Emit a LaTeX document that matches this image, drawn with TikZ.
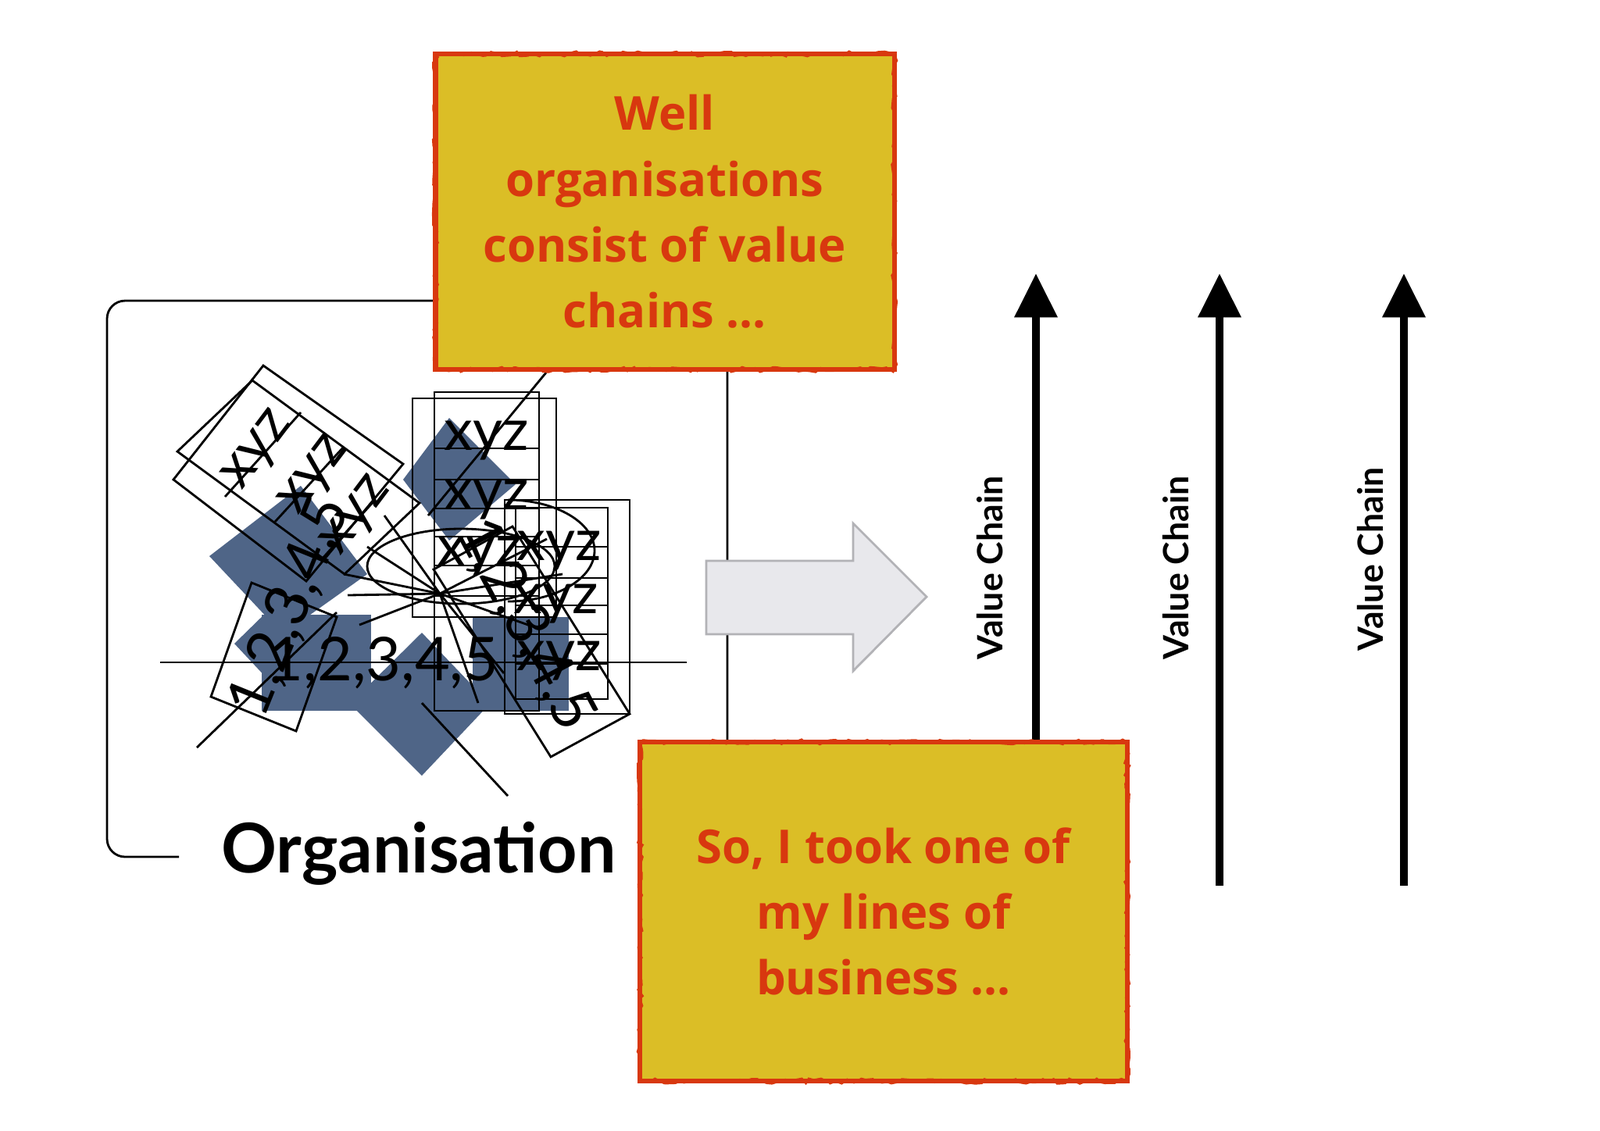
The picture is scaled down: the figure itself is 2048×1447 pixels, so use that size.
\documentclass[tikz,border=0pt]{standalone}
\usepackage{fontspec}
\setmainfont{Lato}
\newfontfamily\notefont{Open Sans}
\usetikzlibrary{arrows.meta,decorations.pathmorphing}

\definecolor{notefill}{HTML}{DBBE26}
\definecolor{notered}{HTML}{D8380F}
\definecolor{slateblue}{HTML}{4F6587}
\definecolor{arrowgray}{HTML}{E8E8EC}
\definecolor{arrowedge}{HTML}{B2B2B6}

\tikzset{
  note/.style={draw=notered, line width=1.8pt, fill=notefill, text=notered,
    align=center, inner sep=0pt, font=\notefont\bfseries\fontsize{17}{24}\selectfont,
    postaction={draw=notered, line width=0.8pt, decorate,
      decoration={random steps, segment length=2pt, amplitude=0.9pt}}},
  bracket/.style={draw=black, line width=0.8pt, rounded corners=0.23cm},
  cell/.style={draw=black, line width=0.8pt},
  blob/.style={fill=slateblue},
  xyz/.style={inner sep=0pt, font=\fontsize{21}{21}\selectfont},
  digits/.style={inner sep=0pt, font=\fontsize{22}{22}\selectfont},
  bigarrow/.style={draw=arrowedge, line width=0.8pt, fill=arrowgray},
  chain/.style={line width=3pt, -{Triangle[length=16pt, width=15pt]}},
  chainlabel/.style={rotate=90, font=\bfseries\fontsize{12.7}{14}\selectfont},
}

\begin{document}
\begin{tikzpicture}[x=0.01cm, y=-0.01cm]
\useasboundingbox (0,0) rectangle (2048,1447);
\fill[white] (0,0) rectangle (2048,1447);

% organisation group
\draw[bracket] (229,1097) -- (137,1097) -- (137,385) -- (931,385) -- (931,1060);

% the tangle of things inside the organisation
\fill[blob] (268,712) -- (385,622) -- (470,735) -- (362,812) -- cycle;
\fill[blob] (300,824) -- (345,780) -- (345,872) -- cycle;
\fill[blob] (575,535) -- (660,620) -- (575,692) -- (516,614) -- cycle;
\fill[blob] (335,787) rectangle (475,910);
\fill[blob] (605,790) rectangle (728,910);
\fill[blob] (540,810) -- (627,901) -- (540,993) -- (448,901) -- cycle;

\draw[cell] (337,468) -- (516,594) -- (392,744) -- (222,614) -- cycle;
\draw[cell] (323,487) -- (537,644) -- (441,735) -- (227,578) -- cycle;
\draw[cell] (288,636) -- (385,528);
\draw[cell] (352,668) -- (440,572);
\draw[cell] (410,718) -- (480,640);
\node[xyz, rotate=53] (xyz a1) at (332,578) {xyz};
\node[xyz, rotate=53] (xyz a2) at (404,610) {xyz};
\node[xyz, rotate=53] (xyz a3) at (458,662) {xyz};

\draw[cell] (270,892) -- (379,936) -- (431,790) -- (322,746) -- cycle;
\node[digits, rotate=68] (digits up) at (372,777) {1,2,3,4,5};

\draw[cell] (528,510) rectangle (712,790);
\draw[cell] (556,502) rectangle (690,910);
\foreach \y in {574,614,651,687,724,763} \draw[cell] (556,\y) -- (690,\y);
\node[xyz] (xyz d1) at (623,564) {xyz};
\node[xyz] (xyz d2) at (623,640) {xyz};
\node[xyz] (xyz d3) at (614,712) {xyz};

\draw[cell] (646,640) rectangle (806,914);
\draw[cell] (660,650) rectangle (778,895);
\foreach \y in {700,740,775,812,850} \draw[cell] (660,\y) -- (778,\y);
\draw[cell] (650,640) arc[start angle=-90, end angle=90, x radius=111, y radius=65];
\draw[cell] (590,725) ellipse[x radius=120, y radius=48];
\node[xyz] (xyz e1) at (716,705) {xyz};
\node[xyz] (xyz e2) at (712,773) {xyz};
\node[xyz] (xyz e3) at (716,846) {xyz};

\draw[cell] (705,969) -- (806,914) -- (656,674) -- (555,729) -- cycle;
\node[digits, rotate=-62] (digits down) at (672,800) {1,2,3,4,5};

\coordinate (hub) at (563,760);
\foreach \p in {(440,735),(445,762),(460,800),(470,700),(492,660),(700,690),(720,735),(690,805),(612,900),(645,862)}
  \draw[cell] (hub) -- \p;
\draw[cell] (205,848) -- (879,848);
\draw[cell] (252,957) -- (431,784);
\draw[cell] (699,477) -- (548,660);
\draw[cell] (650,1019) -- (540,900);
\node[digits] (digits flat) at (491,849) {1,2,3,4,5};

% big grey arrow
\draw[bigarrow] (904,718) -- (1092,718) -- (1092,670) -- (1186,764)
  -- (1092,859) -- (1092,812) -- (904,812) -- cycle;

% value chains
\foreach \n/\ax/\lx/\ly in {1/1326/1267/727, 2/1561/1505/727, 3/1797/1754/716}{
  \coordinate (chain\n foot) at (\ax,1134);
  \coordinate (chain\n top) at (\ax,350);
  \draw[chain] (chain\n foot) -- (chain\n top);
  \node[chainlabel] (chain\n label) at (\lx,\ly) {Value Chain};
}

% notes
\node[note, minimum width=5.87cm, minimum height=4.04cm] (wellnote) at (851,271)
  {Well\\organisations\\consist of value\\chains ...};
\node[note, minimum width=6.23cm, minimum height=4.34cm] (tooknote) at (1131,1167)
  {So, I took one of\\my lines of\\business ...};

\node[anchor=base, inner sep=0pt, font=\bfseries\fontsize{25}{29}\selectfont] (orglabel) at (536,1117) {Organisation};
\end{tikzpicture}
\end{document}
